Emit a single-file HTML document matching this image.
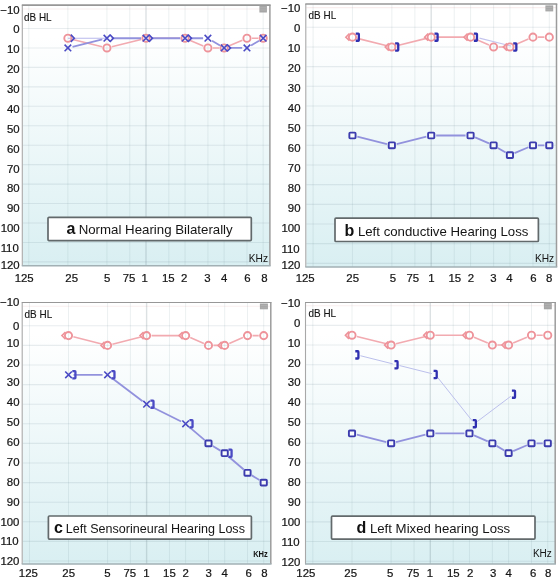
<!DOCTYPE html>
<html><head><meta charset="utf-8"><style>
html,body{margin:0;padding:0;background:#fff;}
body{width:560px;height:580px;overflow:hidden;font-family:"Liberation Sans",sans-serif;}
svg{display:block;will-change:transform;}
</style></head><body>
<svg width="560" height="580" viewBox="0 0 560 580" font-family="Liberation Sans, sans-serif">
<defs><linearGradient id="bg" x1="0" y1="0" x2="0" y2="1"><stop offset="0" stop-color="#ffffff"/><stop offset="0.12" stop-color="#ffffff"/><stop offset="1" stop-color="#d9eff2"/></linearGradient></defs>
<rect width="560" height="580" fill="#fff"/>
<rect x="22.8" y="5.2" width="247.10" height="260.60" fill="url(#bg)"/>
<line x1="22.8" x2="269.9" y1="9.05" y2="9.05" stroke="rgba(220,150,150,0.16)" stroke-width="1.1"/>
<line x1="22.8" x2="269.9" y1="28.50" y2="28.50" stroke="rgba(100,130,140,0.14)" stroke-width="1.1"/>
<line x1="22.8" x2="269.9" y1="47.95" y2="47.95" stroke="rgba(100,130,140,0.14)" stroke-width="1.1"/>
<line x1="22.8" x2="269.9" y1="67.40" y2="67.40" stroke="rgba(100,130,140,0.14)" stroke-width="1.1"/>
<line x1="22.8" x2="269.9" y1="86.85" y2="86.85" stroke="rgba(100,130,140,0.14)" stroke-width="1.1"/>
<line x1="22.8" x2="269.9" y1="106.30" y2="106.30" stroke="rgba(100,130,140,0.14)" stroke-width="1.1"/>
<line x1="22.8" x2="269.9" y1="125.75" y2="125.75" stroke="rgba(100,130,140,0.14)" stroke-width="1.1"/>
<line x1="22.8" x2="269.9" y1="145.20" y2="145.20" stroke="rgba(100,130,140,0.14)" stroke-width="1.1"/>
<line x1="22.8" x2="269.9" y1="164.65" y2="164.65" stroke="rgba(100,130,140,0.14)" stroke-width="1.1"/>
<line x1="22.8" x2="269.9" y1="184.10" y2="184.10" stroke="rgba(100,130,140,0.14)" stroke-width="1.1"/>
<line x1="22.8" x2="269.9" y1="203.55" y2="203.55" stroke="rgba(100,130,140,0.14)" stroke-width="1.1"/>
<line x1="22.8" x2="269.9" y1="223.00" y2="223.00" stroke="rgba(100,130,140,0.14)" stroke-width="1.1"/>
<line x1="22.8" x2="269.9" y1="242.45" y2="242.45" stroke="rgba(100,130,140,0.14)" stroke-width="1.1"/>
<line x1="22.8" x2="269.9" y1="261.90" y2="261.90" stroke="rgba(100,130,140,0.14)" stroke-width="1.1"/>
<line y1="5.2" y2="265.8" x1="28.82" x2="28.82" stroke="rgba(100,130,140,0.12)" stroke-width="1.0"/>
<line y1="5.2" y2="265.8" x1="67.88" x2="67.88" stroke="rgba(100,130,140,0.12)" stroke-width="1.0"/>
<line y1="5.2" y2="265.8" x1="106.94" x2="106.94" stroke="rgba(100,130,140,0.12)" stroke-width="1.0"/>
<line y1="5.2" y2="265.8" x1="129.79" x2="129.79" stroke="rgba(100,130,140,0.12)" stroke-width="1.0"/>
<line y1="5.2" y2="265.8" x1="146.00" x2="146.00" stroke="rgba(90,115,125,0.21)" stroke-width="1.4"/>
<line y1="5.2" y2="265.8" x1="168.85" x2="168.85" stroke="rgba(100,130,140,0.12)" stroke-width="1.0"/>
<line y1="5.2" y2="265.8" x1="185.06" x2="185.06" stroke="rgba(100,130,140,0.12)" stroke-width="1.0"/>
<line y1="5.2" y2="265.8" x1="207.91" x2="207.91" stroke="rgba(100,130,140,0.12)" stroke-width="1.0"/>
<line y1="5.2" y2="265.8" x1="224.12" x2="224.12" stroke="rgba(100,130,140,0.12)" stroke-width="1.0"/>
<line y1="5.2" y2="265.8" x1="246.97" x2="246.97" stroke="rgba(100,130,140,0.12)" stroke-width="1.0"/>
<line y1="5.2" y2="265.8" x1="263.18" x2="263.18" stroke="rgba(100,130,140,0.12)" stroke-width="1.0"/>
<line x1="22.30" x2="22.30" y1="5.2" y2="265.8" stroke="#a8a8a8" stroke-width="1.1"/>
<line x1="269.90" x2="269.90" y1="5.2" y2="265.8" stroke="#9c9c9c" stroke-width="1.5"/>
<line x1="21.80" x2="270.65" y1="265.80" y2="265.80" stroke="#a2b0b4" stroke-width="1.5"/>
<line x1="21.80" x2="270.65" y1="5.20" y2="5.20" stroke="#979797" stroke-width="1.7"/>
<rect x="259.4" y="5.6" width="7.50" height="6.90" fill="#a6a6a6"/>
<line x1="260.20" x2="266.10" y1="7.80" y2="7.80" stroke="#b8b8b8" stroke-width="0.7"/>
<line x1="260.20" x2="266.10" y1="10.00" y2="10.00" stroke="#b8b8b8" stroke-width="0.7"/>
<text x="24.00" y="20.90" font-size="10.2" fill="#151515" stroke="#151515" stroke-width="0.12" textLength="27.6" lengthAdjust="spacingAndGlyphs">dB HL</text>
<text x="248.78" y="261.80" font-size="10.2" fill="#151515">KHz</text>
<rect x="48.0" y="217.3" width="203.30" height="23.30" rx="1" fill="#fff" stroke="#62696b" stroke-width="1.7"/>
<text x="66.40" y="233.75" font-size="16" font-weight="bold" fill="#111">a</text>
<text x="78.67" y="234.00" font-size="13.2" fill="#151515" textLength="154.05" lengthAdjust="spacingAndGlyphs">Normal Hearing Bilaterally</text>
<path d="M72.73,39.43L102.09,46.74M111.79,46.74L141.15,39.43M151.00,38.23L180.06,38.23M189.66,40.18L203.31,45.99M212.91,47.95L219.12,47.95M228.72,45.99L242.37,40.18M251.97,38.23L258.18,38.23" fill="none" stroke="#f2aab0" stroke-width="1.6" />
<path d="M72.54,46.79L102.28,39.38M111.74,38.23L141.20,38.23M150.80,38.23L180.26,38.23M189.86,38.23L203.11,38.23M212.02,40.69L220.00,45.48M228.92,47.95L242.17,47.95M251.08,45.48L259.06,40.69" fill="none" stroke="#9292dd" stroke-width="1.8" />
<polyline points="67.88,38.23 106.94,38.23" fill="none" stroke="#b8b8ec" stroke-width="1.2" />
<circle cx="67.88" cy="38.23" r="3.6" fill="none" stroke="#ee939a" stroke-width="1.9"/>
<circle cx="106.94" cy="47.95" r="3.6" fill="none" stroke="#ee939a" stroke-width="1.9"/>
<circle cx="146.00" cy="38.23" r="3.6" fill="none" stroke="#ee939a" stroke-width="1.9"/>
<circle cx="185.06" cy="38.23" r="3.6" fill="none" stroke="#ee939a" stroke-width="1.9"/>
<circle cx="207.91" cy="47.95" r="3.6" fill="none" stroke="#ee939a" stroke-width="1.9"/>
<circle cx="224.12" cy="47.95" r="3.6" fill="none" stroke="#ee939a" stroke-width="1.9"/>
<circle cx="246.97" cy="38.23" r="3.6" fill="none" stroke="#ee939a" stroke-width="1.9"/>
<circle cx="263.18" cy="38.23" r="3.6" fill="none" stroke="#ee939a" stroke-width="1.9"/>
<path d="M64.58,44.65L71.18,51.25M64.58,51.25L71.18,44.65" stroke="#4a4ac4" stroke-width="1.6" fill="none"/>
<path d="M103.64,34.93L110.24,41.52M103.64,41.52L110.24,34.93" stroke="#4a4ac4" stroke-width="1.6" fill="none"/>
<path d="M142.70,34.93L149.30,41.52M142.70,41.52L149.30,34.93" stroke="#4a4ac4" stroke-width="1.6" fill="none"/>
<path d="M181.76,34.93L188.36,41.52M181.76,41.52L188.36,34.93" stroke="#4a4ac4" stroke-width="1.6" fill="none"/>
<path d="M204.61,34.93L211.21,41.52M204.61,41.52L211.21,34.93" stroke="#4a4ac4" stroke-width="1.6" fill="none"/>
<path d="M220.82,44.65L227.42,51.25M220.82,51.25L227.42,44.65" stroke="#4a4ac4" stroke-width="1.6" fill="none"/>
<path d="M243.67,44.65L250.27,51.25M243.67,51.25L250.27,44.65" stroke="#4a4ac4" stroke-width="1.6" fill="none"/>
<path d="M259.88,34.93L266.48,41.52M259.88,41.52L266.48,34.93" stroke="#4a4ac4" stroke-width="1.6" fill="none"/>
<path d="M70.78,34.62L74.28,38.23L70.78,41.83" stroke="#4a4ac4" stroke-width="1.6" fill="none"/>
<path d="M109.84,34.62L113.34,38.23L109.84,41.83" stroke="#4a4ac4" stroke-width="1.6" fill="none"/>
<path d="M148.90,34.62L152.40,38.23L148.90,41.83" stroke="#4a4ac4" stroke-width="1.6" fill="none"/>
<path d="M187.96,34.62L191.46,38.23L187.96,41.83" stroke="#4a4ac4" stroke-width="1.6" fill="none"/>
<path d="M227.02,44.35L230.52,47.95L227.02,51.55" stroke="#4a4ac4" stroke-width="1.6" fill="none"/>
<text x="0.31" y="13.53" font-size="11.4" fill="#151515" stroke="#151515" stroke-width="0.22">−10</text>
<text x="13.31" y="33.41" font-size="11.4" fill="#151515" stroke="#151515" stroke-width="0.22">0</text>
<text x="6.97" y="53.29" font-size="11.4" fill="#151515" stroke="#151515" stroke-width="0.22">10</text>
<text x="7.00" y="73.17" font-size="11.4" fill="#151515" stroke="#151515" stroke-width="0.22">20</text>
<text x="7.00" y="93.05" font-size="11.4" fill="#151515" stroke="#151515" stroke-width="0.22">30</text>
<text x="7.00" y="112.93" font-size="11.4" fill="#151515" stroke="#151515" stroke-width="0.22">40</text>
<text x="7.00" y="132.81" font-size="11.4" fill="#151515" stroke="#151515" stroke-width="0.22">50</text>
<text x="7.00" y="152.69" font-size="11.4" fill="#151515" stroke="#151515" stroke-width="0.22">60</text>
<text x="7.00" y="172.57" font-size="11.4" fill="#151515" stroke="#151515" stroke-width="0.22">70</text>
<text x="7.00" y="192.45" font-size="11.4" fill="#151515" stroke="#151515" stroke-width="0.22">80</text>
<text x="7.00" y="212.33" font-size="11.4" fill="#151515" stroke="#151515" stroke-width="0.22">90</text>
<text x="0.63" y="232.21" font-size="11.4" fill="#151515" stroke="#151515" stroke-width="0.22">100</text>
<text x="0.63" y="252.09" font-size="11.4" fill="#151515" stroke="#151515" stroke-width="0.22">110</text>
<text x="0.63" y="269.28" font-size="11.4" fill="#151515" stroke="#151515" stroke-width="0.22">120</text>
<text x="14.70" y="282.00" font-size="11.4" fill="#151515" stroke="#151515" stroke-width="0.22">125</text>
<text x="65.37" y="282.00" font-size="11.4" fill="#151515" stroke="#151515" stroke-width="0.22">25</text>
<text x="104.09" y="282.00" font-size="11.4" fill="#151515" stroke="#151515" stroke-width="0.22">5</text>
<text x="122.64" y="282.00" font-size="11.4" fill="#151515" stroke="#151515" stroke-width="0.22">75</text>
<text x="141.43" y="282.00" font-size="11.4" fill="#151515" stroke="#151515" stroke-width="0.22">1</text>
<text x="161.97" y="282.00" font-size="11.4" fill="#151515" stroke="#151515" stroke-width="0.22">15</text>
<text x="180.93" y="282.00" font-size="11.4" fill="#151515" stroke="#151515" stroke-width="0.22">2</text>
<text x="204.37" y="282.00" font-size="11.4" fill="#151515" stroke="#151515" stroke-width="0.22">3</text>
<text x="220.97" y="282.00" font-size="11.4" fill="#151515" stroke="#151515" stroke-width="0.22">4</text>
<text x="244.29" y="282.00" font-size="11.4" fill="#151515" stroke="#151515" stroke-width="0.22">6</text>
<text x="261.23" y="282.00" font-size="11.4" fill="#151515" stroke="#151515" stroke-width="0.22">8</text>
<rect x="306.3" y="3.9" width="250.20" height="263.10" fill="url(#bg)"/>
<line x1="306.3" x2="556.5" y1="7.63" y2="7.63" stroke="rgba(220,150,150,0.16)" stroke-width="1.1"/>
<line x1="306.3" x2="556.5" y1="27.30" y2="27.30" stroke="rgba(100,130,140,0.14)" stroke-width="1.1"/>
<line x1="306.3" x2="556.5" y1="46.97" y2="46.97" stroke="rgba(100,130,140,0.14)" stroke-width="1.1"/>
<line x1="306.3" x2="556.5" y1="66.64" y2="66.64" stroke="rgba(100,130,140,0.14)" stroke-width="1.1"/>
<line x1="306.3" x2="556.5" y1="86.31" y2="86.31" stroke="rgba(100,130,140,0.14)" stroke-width="1.1"/>
<line x1="306.3" x2="556.5" y1="105.98" y2="105.98" stroke="rgba(100,130,140,0.14)" stroke-width="1.1"/>
<line x1="306.3" x2="556.5" y1="125.65" y2="125.65" stroke="rgba(100,130,140,0.14)" stroke-width="1.1"/>
<line x1="306.3" x2="556.5" y1="145.32" y2="145.32" stroke="rgba(100,130,140,0.14)" stroke-width="1.1"/>
<line x1="306.3" x2="556.5" y1="164.99" y2="164.99" stroke="rgba(100,130,140,0.14)" stroke-width="1.1"/>
<line x1="306.3" x2="556.5" y1="184.66" y2="184.66" stroke="rgba(100,130,140,0.14)" stroke-width="1.1"/>
<line x1="306.3" x2="556.5" y1="204.33" y2="204.33" stroke="rgba(100,130,140,0.14)" stroke-width="1.1"/>
<line x1="306.3" x2="556.5" y1="224.00" y2="224.00" stroke="rgba(100,130,140,0.14)" stroke-width="1.1"/>
<line x1="306.3" x2="556.5" y1="243.67" y2="243.67" stroke="rgba(100,130,140,0.14)" stroke-width="1.1"/>
<line x1="306.3" x2="556.5" y1="263.34" y2="263.34" stroke="rgba(100,130,140,0.14)" stroke-width="1.1"/>
<line y1="3.9" y2="267.0" x1="313.09" x2="313.09" stroke="rgba(100,130,140,0.12)" stroke-width="1.0"/>
<line y1="3.9" y2="267.0" x1="352.46" x2="352.46" stroke="rgba(100,130,140,0.12)" stroke-width="1.0"/>
<line y1="3.9" y2="267.0" x1="391.83" x2="391.83" stroke="rgba(100,130,140,0.12)" stroke-width="1.0"/>
<line y1="3.9" y2="267.0" x1="414.86" x2="414.86" stroke="rgba(100,130,140,0.12)" stroke-width="1.0"/>
<line y1="3.9" y2="267.0" x1="431.20" x2="431.20" stroke="rgba(90,115,125,0.21)" stroke-width="1.4"/>
<line y1="3.9" y2="267.0" x1="454.23" x2="454.23" stroke="rgba(100,130,140,0.12)" stroke-width="1.0"/>
<line y1="3.9" y2="267.0" x1="470.57" x2="470.57" stroke="rgba(100,130,140,0.12)" stroke-width="1.0"/>
<line y1="3.9" y2="267.0" x1="493.60" x2="493.60" stroke="rgba(100,130,140,0.12)" stroke-width="1.0"/>
<line y1="3.9" y2="267.0" x1="509.94" x2="509.94" stroke="rgba(100,130,140,0.12)" stroke-width="1.0"/>
<line y1="3.9" y2="267.0" x1="532.97" x2="532.97" stroke="rgba(100,130,140,0.12)" stroke-width="1.0"/>
<line y1="3.9" y2="267.0" x1="549.31" x2="549.31" stroke="rgba(100,130,140,0.12)" stroke-width="1.0"/>
<line x1="305.80" x2="305.80" y1="3.9" y2="267.0" stroke="#a8a8a8" stroke-width="1.1"/>
<line x1="556.50" x2="556.50" y1="3.9" y2="267.0" stroke="#9c9c9c" stroke-width="1.5"/>
<line x1="305.30" x2="557.25" y1="267.00" y2="267.00" stroke="#a2b0b4" stroke-width="1.5"/>
<line x1="305.30" x2="557.25" y1="3.90" y2="3.90" stroke="#979797" stroke-width="1.5"/>
<rect x="545.4" y="5.4" width="7.80" height="6.00" fill="#a6a6a6"/>
<line x1="546.20" x2="552.40" y1="7.60" y2="7.60" stroke="#b8b8b8" stroke-width="0.7"/>
<line x1="546.20" x2="552.40" y1="9.80" y2="9.80" stroke="#b8b8b8" stroke-width="0.7"/>
<text x="308.60" y="18.90" font-size="10.2" fill="#151515" stroke="#151515" stroke-width="0.12" textLength="27.6" lengthAdjust="spacingAndGlyphs">dB HL</text>
<text x="534.88" y="262.00" font-size="10.2" fill="#151515">KHz</text>
<rect x="335.0" y="218.2" width="203.40" height="23.30" rx="1" fill="#fff" stroke="#62696b" stroke-width="1.7"/>
<text x="344.50" y="235.50" font-size="16" font-weight="bold" fill="#111">b</text>
<text x="357.92" y="235.50" font-size="13.2" fill="#151515" textLength="170.50" lengthAdjust="spacingAndGlyphs">Left conductive Hearing Loss</text>
<path d="M357.31,38.35L386.98,45.76M396.68,45.76L426.35,38.35M436.20,37.14L465.57,37.14M475.17,39.10L489.00,45.01M498.60,46.97L504.94,46.97M514.54,45.01L528.37,39.10M537.97,37.14L544.31,37.14" fill="none" stroke="#f2aab0" stroke-width="1.6" />
<path d="M479.45,38.10L511.06,46.00" fill="none" stroke="#c4c4ee" stroke-width="1.1" />
<circle cx="352.46" cy="37.14" r="3.6" fill="none" stroke="#ee939a" stroke-width="1.9"/>
<circle cx="391.83" cy="46.97" r="3.6" fill="none" stroke="#ee939a" stroke-width="1.9"/>
<circle cx="431.20" cy="37.14" r="3.6" fill="none" stroke="#ee939a" stroke-width="1.9"/>
<circle cx="470.57" cy="37.14" r="3.6" fill="none" stroke="#ee939a" stroke-width="1.9"/>
<circle cx="493.60" cy="46.97" r="3.6" fill="none" stroke="#ee939a" stroke-width="1.9"/>
<circle cx="509.94" cy="46.97" r="3.6" fill="none" stroke="#ee939a" stroke-width="1.9"/>
<circle cx="532.97" cy="37.14" r="3.6" fill="none" stroke="#ee939a" stroke-width="1.9"/>
<circle cx="549.31" cy="37.14" r="3.6" fill="none" stroke="#ee939a" stroke-width="1.9"/>
<path d="M349.46,33.54L345.86,37.14L349.46,40.74" stroke="#ee939a" stroke-width="1.6" fill="none"/>
<path d="M388.83,43.37L385.23,46.97L388.83,50.57" stroke="#ee939a" stroke-width="1.6" fill="none"/>
<path d="M428.20,33.54L424.60,37.14L428.20,40.74" stroke="#ee939a" stroke-width="1.6" fill="none"/>
<path d="M467.57,33.54L463.97,37.14L467.57,40.74" stroke="#ee939a" stroke-width="1.6" fill="none"/>
<path d="M506.94,43.37L503.34,46.97L506.94,50.57" stroke="#ee939a" stroke-width="1.6" fill="none"/>
<path d="M355.76,33.54H358.36Q358.86,33.54 358.86,34.14V40.14Q358.86,40.74 358.36,40.74H355.76" stroke="#3030b0" stroke-width="2.3" fill="none"/>
<path d="M395.13,43.37H397.73Q398.23,43.37 398.23,43.97V49.97Q398.23,50.57 397.73,50.57H395.13" stroke="#3030b0" stroke-width="2.3" fill="none"/>
<path d="M434.50,33.54H437.10Q437.60,33.54 437.60,34.14V40.14Q437.60,40.74 437.10,40.74H434.50" stroke="#3030b0" stroke-width="2.3" fill="none"/>
<path d="M473.87,33.54H476.47Q476.97,33.54 476.97,34.14V40.14Q476.97,40.74 476.47,40.74H473.87" stroke="#3030b0" stroke-width="2.3" fill="none"/>
<path d="M513.24,43.37H515.84Q516.34,43.37 516.34,43.97V49.97Q516.34,50.57 515.84,50.57H513.24" stroke="#3030b0" stroke-width="2.3" fill="none"/>
<path d="M357.31,136.70L386.98,144.11M396.68,144.11L426.35,136.70M436.20,135.49L465.57,135.49M475.17,137.45L489.00,143.36M497.88,147.90L505.66,152.58M514.54,153.19L528.37,147.28M537.97,145.32L544.31,145.32" fill="none" stroke="#9292dd" stroke-width="1.8" />
<rect x="349.36" y="132.59" width="6.2" height="5.8" rx="0.8" fill="#fff" fill-opacity="0.7" stroke="#3c3cae" stroke-width="1.9"/>
<rect x="388.73" y="142.42" width="6.2" height="5.8" rx="0.8" fill="#fff" fill-opacity="0.7" stroke="#3c3cae" stroke-width="1.9"/>
<rect x="428.10" y="132.59" width="6.2" height="5.8" rx="0.8" fill="#fff" fill-opacity="0.7" stroke="#3c3cae" stroke-width="1.9"/>
<rect x="467.47" y="132.59" width="6.2" height="5.8" rx="0.8" fill="#fff" fill-opacity="0.7" stroke="#3c3cae" stroke-width="1.9"/>
<rect x="490.50" y="142.42" width="6.2" height="5.8" rx="0.8" fill="#fff" fill-opacity="0.7" stroke="#3c3cae" stroke-width="1.9"/>
<rect x="506.84" y="152.26" width="6.2" height="5.8" rx="0.8" fill="#fff" fill-opacity="0.7" stroke="#3c3cae" stroke-width="1.9"/>
<rect x="529.87" y="142.42" width="6.2" height="5.8" rx="0.8" fill="#fff" fill-opacity="0.7" stroke="#3c3cae" stroke-width="1.9"/>
<rect x="546.21" y="142.42" width="6.2" height="5.8" rx="0.8" fill="#fff" fill-opacity="0.7" stroke="#3c3cae" stroke-width="1.9"/>
<text x="281.11" y="11.58" font-size="11.4" fill="#151515" stroke="#151515" stroke-width="0.22">−10</text>
<text x="294.11" y="31.66" font-size="11.4" fill="#151515" stroke="#151515" stroke-width="0.22">0</text>
<text x="287.77" y="51.74" font-size="11.4" fill="#151515" stroke="#151515" stroke-width="0.22">10</text>
<text x="287.80" y="71.82" font-size="11.4" fill="#151515" stroke="#151515" stroke-width="0.22">20</text>
<text x="287.80" y="91.90" font-size="11.4" fill="#151515" stroke="#151515" stroke-width="0.22">30</text>
<text x="287.80" y="111.98" font-size="11.4" fill="#151515" stroke="#151515" stroke-width="0.22">40</text>
<text x="287.80" y="132.06" font-size="11.4" fill="#151515" stroke="#151515" stroke-width="0.22">50</text>
<text x="287.80" y="152.14" font-size="11.4" fill="#151515" stroke="#151515" stroke-width="0.22">60</text>
<text x="287.80" y="172.22" font-size="11.4" fill="#151515" stroke="#151515" stroke-width="0.22">70</text>
<text x="287.80" y="192.30" font-size="11.4" fill="#151515" stroke="#151515" stroke-width="0.22">80</text>
<text x="287.80" y="212.38" font-size="11.4" fill="#151515" stroke="#151515" stroke-width="0.22">90</text>
<text x="281.43" y="232.46" font-size="11.4" fill="#151515" stroke="#151515" stroke-width="0.22">100</text>
<text x="281.43" y="252.54" font-size="11.4" fill="#151515" stroke="#151515" stroke-width="0.22">110</text>
<text x="281.43" y="268.88" font-size="11.4" fill="#151515" stroke="#151515" stroke-width="0.22">120</text>
<text x="295.70" y="281.50" font-size="11.4" fill="#151515" stroke="#151515" stroke-width="0.22">125</text>
<text x="346.32" y="281.50" font-size="11.4" fill="#151515" stroke="#151515" stroke-width="0.22">25</text>
<text x="389.84" y="281.50" font-size="11.4" fill="#151515" stroke="#151515" stroke-width="0.22">5</text>
<text x="406.49" y="281.50" font-size="11.4" fill="#151515" stroke="#151515" stroke-width="0.22">75</text>
<text x="428.28" y="281.50" font-size="11.4" fill="#151515" stroke="#151515" stroke-width="0.22">1</text>
<text x="448.47" y="281.50" font-size="11.4" fill="#151515" stroke="#151515" stroke-width="0.22">15</text>
<text x="467.83" y="281.50" font-size="11.4" fill="#151515" stroke="#151515" stroke-width="0.22">2</text>
<text x="490.26" y="281.50" font-size="11.4" fill="#151515" stroke="#151515" stroke-width="0.22">3</text>
<text x="506.26" y="281.50" font-size="11.4" fill="#151515" stroke="#151515" stroke-width="0.22">4</text>
<text x="530.19" y="281.50" font-size="11.4" fill="#151515" stroke="#151515" stroke-width="0.22">6</text>
<text x="545.93" y="281.50" font-size="11.4" fill="#151515" stroke="#151515" stroke-width="0.22">8</text>
<rect x="22.7" y="302.5" width="248.10" height="261.50" fill="url(#bg)"/>
<line x1="22.7" x2="270.8" y1="306.20" y2="306.20" stroke="rgba(220,150,150,0.16)" stroke-width="1.1"/>
<line x1="22.7" x2="270.8" y1="325.80" y2="325.80" stroke="rgba(100,130,140,0.14)" stroke-width="1.1"/>
<line x1="22.7" x2="270.8" y1="345.40" y2="345.40" stroke="rgba(100,130,140,0.14)" stroke-width="1.1"/>
<line x1="22.7" x2="270.8" y1="365.00" y2="365.00" stroke="rgba(100,130,140,0.14)" stroke-width="1.1"/>
<line x1="22.7" x2="270.8" y1="384.60" y2="384.60" stroke="rgba(100,130,140,0.14)" stroke-width="1.1"/>
<line x1="22.7" x2="270.8" y1="404.20" y2="404.20" stroke="rgba(100,130,140,0.14)" stroke-width="1.1"/>
<line x1="22.7" x2="270.8" y1="423.80" y2="423.80" stroke="rgba(100,130,140,0.14)" stroke-width="1.1"/>
<line x1="22.7" x2="270.8" y1="443.40" y2="443.40" stroke="rgba(100,130,140,0.14)" stroke-width="1.1"/>
<line x1="22.7" x2="270.8" y1="463.00" y2="463.00" stroke="rgba(100,130,140,0.14)" stroke-width="1.1"/>
<line x1="22.7" x2="270.8" y1="482.60" y2="482.60" stroke="rgba(100,130,140,0.14)" stroke-width="1.1"/>
<line x1="22.7" x2="270.8" y1="502.20" y2="502.20" stroke="rgba(100,130,140,0.14)" stroke-width="1.1"/>
<line x1="22.7" x2="270.8" y1="521.80" y2="521.80" stroke="rgba(100,130,140,0.14)" stroke-width="1.1"/>
<line x1="22.7" x2="270.8" y1="541.40" y2="541.40" stroke="rgba(100,130,140,0.14)" stroke-width="1.1"/>
<line x1="22.7" x2="270.8" y1="561.00" y2="561.00" stroke="rgba(100,130,140,0.14)" stroke-width="1.1"/>
<line y1="302.5" y2="564.0" x1="29.48" x2="29.48" stroke="rgba(100,130,140,0.12)" stroke-width="1.0"/>
<line y1="302.5" y2="564.0" x1="68.52" x2="68.52" stroke="rgba(100,130,140,0.12)" stroke-width="1.0"/>
<line y1="302.5" y2="564.0" x1="107.56" x2="107.56" stroke="rgba(100,130,140,0.12)" stroke-width="1.0"/>
<line y1="302.5" y2="564.0" x1="130.40" x2="130.40" stroke="rgba(100,130,140,0.12)" stroke-width="1.0"/>
<line y1="302.5" y2="564.0" x1="146.60" x2="146.60" stroke="rgba(90,115,125,0.21)" stroke-width="1.4"/>
<line y1="302.5" y2="564.0" x1="169.44" x2="169.44" stroke="rgba(100,130,140,0.12)" stroke-width="1.0"/>
<line y1="302.5" y2="564.0" x1="185.64" x2="185.64" stroke="rgba(100,130,140,0.12)" stroke-width="1.0"/>
<line y1="302.5" y2="564.0" x1="208.48" x2="208.48" stroke="rgba(100,130,140,0.12)" stroke-width="1.0"/>
<line y1="302.5" y2="564.0" x1="224.68" x2="224.68" stroke="rgba(100,130,140,0.12)" stroke-width="1.0"/>
<line y1="302.5" y2="564.0" x1="247.52" x2="247.52" stroke="rgba(100,130,140,0.12)" stroke-width="1.0"/>
<line y1="302.5" y2="564.0" x1="263.72" x2="263.72" stroke="rgba(100,130,140,0.12)" stroke-width="1.0"/>
<line x1="22.20" x2="22.20" y1="302.5" y2="564.0" stroke="#a8a8a8" stroke-width="1.1"/>
<line x1="270.80" x2="270.80" y1="302.5" y2="564.0" stroke="#9c9c9c" stroke-width="1.5"/>
<line x1="21.70" x2="271.55" y1="564.00" y2="564.00" stroke="#a2b0b4" stroke-width="1.5"/>
<line x1="21.70" x2="271.55" y1="302.50" y2="302.50" stroke="#979797" stroke-width="1.2"/>
<rect x="259.9" y="303.5" width="8.00" height="5.80" fill="#a6a6a6"/>
<line x1="260.70" x2="267.10" y1="305.70" y2="305.70" stroke="#b8b8b8" stroke-width="0.7"/>
<line x1="260.70" x2="267.10" y1="307.90" y2="307.90" stroke="#b8b8b8" stroke-width="0.7"/>
<text x="24.60" y="317.50" font-size="10.2" fill="#151515" stroke="#151515" stroke-width="0.12" textLength="27.6" lengthAdjust="spacingAndGlyphs">dB HL</text>
<text x="253.15" y="557.00" font-size="8.4" font-weight="bold" fill="#151515" textLength="14.6" lengthAdjust="spacingAndGlyphs">KHz</text>
<rect x="48.4" y="516.0" width="203.00" height="23.10" rx="1" fill="#fff" stroke="#62696b" stroke-width="1.7"/>
<text x="53.90" y="533.10" font-size="16" font-weight="bold" fill="#111">c</text>
<text x="65.82" y="532.75" font-size="13.2" fill="#151515" textLength="179.10" lengthAdjust="spacingAndGlyphs">Left Sensorineural Hearing Loss</text>
<path d="M73.37,336.82L102.71,344.18M112.41,344.18L141.75,336.82M151.60,335.60L180.64,335.60M190.23,337.57L203.88,343.43M213.48,345.40L219.68,345.40M229.27,343.43L242.92,337.57M252.52,335.60L258.72,335.60" fill="none" stroke="#f2aab0" stroke-width="1.6" />
<circle cx="68.52" cy="335.60" r="3.6" fill="none" stroke="#ee939a" stroke-width="1.9"/>
<circle cx="107.56" cy="345.40" r="3.6" fill="none" stroke="#ee939a" stroke-width="1.9"/>
<circle cx="146.60" cy="335.60" r="3.6" fill="none" stroke="#ee939a" stroke-width="1.9"/>
<circle cx="185.64" cy="335.60" r="3.6" fill="none" stroke="#ee939a" stroke-width="1.9"/>
<circle cx="208.48" cy="345.40" r="3.6" fill="none" stroke="#ee939a" stroke-width="1.9"/>
<circle cx="224.68" cy="345.40" r="3.6" fill="none" stroke="#ee939a" stroke-width="1.9"/>
<circle cx="247.52" cy="335.60" r="3.6" fill="none" stroke="#ee939a" stroke-width="1.9"/>
<circle cx="263.72" cy="335.60" r="3.6" fill="none" stroke="#ee939a" stroke-width="1.9"/>
<path d="M65.52,332.00L61.92,335.60L65.52,339.20" stroke="#ee939a" stroke-width="1.6" fill="none"/>
<path d="M104.56,341.80L100.96,345.40L104.56,349.00" stroke="#ee939a" stroke-width="1.6" fill="none"/>
<path d="M143.60,332.00L140.00,335.60L143.60,339.20" stroke="#ee939a" stroke-width="1.6" fill="none"/>
<path d="M182.64,332.00L179.04,335.60L182.64,339.20" stroke="#ee939a" stroke-width="1.6" fill="none"/>
<path d="M221.68,341.80L218.08,345.40L221.68,349.00" stroke="#ee939a" stroke-width="1.6" fill="none"/>
<path d="M73.52,374.80L102.56,374.80M111.55,377.81L142.61,401.19M151.07,406.44L181.17,421.56M189.43,427.06L204.68,440.14M212.76,445.99L220.40,450.61M228.47,456.46L243.72,469.54M251.80,475.39L259.44,480.01" fill="none" stroke="#9292dd" stroke-width="1.8" />
<path d="M65.22,371.50L71.82,378.10M65.22,378.10L71.82,371.50" stroke="#4a4ac4" stroke-width="1.6" fill="none"/>
<path d="M72.32,371.20H74.92Q75.42,371.20 75.42,371.80V377.80Q75.42,378.40 74.92,378.40H72.32" stroke="#4a4ac4" stroke-width="2.3" fill="none"/>
<path d="M104.26,371.50L110.86,378.10M104.26,378.10L110.86,371.50" stroke="#4a4ac4" stroke-width="1.6" fill="none"/>
<path d="M111.36,371.20H113.96Q114.46,371.20 114.46,371.80V377.80Q114.46,378.40 113.96,378.40H111.36" stroke="#4a4ac4" stroke-width="2.3" fill="none"/>
<path d="M143.30,400.90L149.90,407.50M143.30,407.50L149.90,400.90" stroke="#4a4ac4" stroke-width="1.6" fill="none"/>
<path d="M150.40,400.60H153.00Q153.50,400.60 153.50,401.20V407.20Q153.50,407.80 153.00,407.80H150.40" stroke="#4a4ac4" stroke-width="2.3" fill="none"/>
<path d="M182.34,420.50L188.94,427.10M182.34,427.10L188.94,420.50" stroke="#4a4ac4" stroke-width="1.6" fill="none"/>
<path d="M189.44,420.20H192.04Q192.54,420.20 192.54,420.80V426.80Q192.54,427.40 192.04,427.40H189.44" stroke="#4a4ac4" stroke-width="2.3" fill="none"/>
<rect x="205.38" y="440.50" width="6.2" height="5.8" rx="0.8" fill="#fff" fill-opacity="0.7" stroke="#3c3cae" stroke-width="1.9"/>
<rect x="221.58" y="450.30" width="6.2" height="5.8" rx="0.8" fill="#fff" fill-opacity="0.7" stroke="#3c3cae" stroke-width="1.9"/>
<rect x="244.42" y="469.90" width="6.2" height="5.8" rx="0.8" fill="#fff" fill-opacity="0.7" stroke="#3c3cae" stroke-width="1.9"/>
<rect x="260.62" y="479.70" width="6.2" height="5.8" rx="0.8" fill="#fff" fill-opacity="0.7" stroke="#3c3cae" stroke-width="1.9"/>
<path d="M228.48,449.60H231.08Q231.58,449.60 231.58,450.20V456.20Q231.58,456.80 231.08,456.80H228.48" stroke="#4a4ac4" stroke-width="2.3" fill="none"/>
<text x="0.11" y="306.48" font-size="11.4" fill="#151515" stroke="#151515" stroke-width="0.22">−10</text>
<text x="13.11" y="330.48" font-size="11.4" fill="#151515" stroke="#151515" stroke-width="0.22">0</text>
<text x="6.77" y="346.68" font-size="11.4" fill="#151515" stroke="#151515" stroke-width="0.22">10</text>
<text x="6.80" y="366.55" font-size="11.4" fill="#151515" stroke="#151515" stroke-width="0.22">20</text>
<text x="6.80" y="386.42" font-size="11.4" fill="#151515" stroke="#151515" stroke-width="0.22">30</text>
<text x="6.80" y="406.29" font-size="11.4" fill="#151515" stroke="#151515" stroke-width="0.22">40</text>
<text x="6.80" y="426.16" font-size="11.4" fill="#151515" stroke="#151515" stroke-width="0.22">50</text>
<text x="6.80" y="446.03" font-size="11.4" fill="#151515" stroke="#151515" stroke-width="0.22">60</text>
<text x="6.80" y="465.90" font-size="11.4" fill="#151515" stroke="#151515" stroke-width="0.22">70</text>
<text x="6.80" y="485.77" font-size="11.4" fill="#151515" stroke="#151515" stroke-width="0.22">80</text>
<text x="6.80" y="505.64" font-size="11.4" fill="#151515" stroke="#151515" stroke-width="0.22">90</text>
<text x="0.43" y="525.51" font-size="11.4" fill="#151515" stroke="#151515" stroke-width="0.22">100</text>
<text x="0.43" y="545.38" font-size="11.4" fill="#151515" stroke="#151515" stroke-width="0.22">110</text>
<text x="0.43" y="565.25" font-size="11.4" fill="#151515" stroke="#151515" stroke-width="0.22">120</text>
<text x="18.80" y="577.30" font-size="11.4" fill="#151515" stroke="#151515" stroke-width="0.22">125</text>
<text x="62.37" y="577.30" font-size="11.4" fill="#151515" stroke="#151515" stroke-width="0.22">25</text>
<text x="104.34" y="577.30" font-size="11.4" fill="#151515" stroke="#151515" stroke-width="0.22">5</text>
<text x="123.49" y="577.30" font-size="11.4" fill="#151515" stroke="#151515" stroke-width="0.22">75</text>
<text x="143.28" y="577.30" font-size="11.4" fill="#151515" stroke="#151515" stroke-width="0.22">1</text>
<text x="163.07" y="577.30" font-size="11.4" fill="#151515" stroke="#151515" stroke-width="0.22">15</text>
<text x="182.43" y="577.30" font-size="11.4" fill="#151515" stroke="#151515" stroke-width="0.22">2</text>
<text x="205.62" y="577.30" font-size="11.4" fill="#151515" stroke="#151515" stroke-width="0.22">3</text>
<text x="221.62" y="577.30" font-size="11.4" fill="#151515" stroke="#151515" stroke-width="0.22">4</text>
<text x="245.39" y="577.30" font-size="11.4" fill="#151515" stroke="#151515" stroke-width="0.22">6</text>
<text x="261.23" y="577.30" font-size="11.4" fill="#151515" stroke="#151515" stroke-width="0.22">8</text>
<rect x="306.0" y="302.5" width="249.20" height="261.50" fill="url(#bg)"/>
<line x1="306.0" x2="555.2" y1="305.75" y2="305.75" stroke="rgba(220,150,150,0.16)" stroke-width="1.1"/>
<line x1="306.0" x2="555.2" y1="325.40" y2="325.40" stroke="rgba(100,130,140,0.14)" stroke-width="1.1"/>
<line x1="306.0" x2="555.2" y1="345.05" y2="345.05" stroke="rgba(100,130,140,0.14)" stroke-width="1.1"/>
<line x1="306.0" x2="555.2" y1="364.70" y2="364.70" stroke="rgba(100,130,140,0.14)" stroke-width="1.1"/>
<line x1="306.0" x2="555.2" y1="384.35" y2="384.35" stroke="rgba(100,130,140,0.14)" stroke-width="1.1"/>
<line x1="306.0" x2="555.2" y1="404.00" y2="404.00" stroke="rgba(100,130,140,0.14)" stroke-width="1.1"/>
<line x1="306.0" x2="555.2" y1="423.65" y2="423.65" stroke="rgba(100,130,140,0.14)" stroke-width="1.1"/>
<line x1="306.0" x2="555.2" y1="443.30" y2="443.30" stroke="rgba(100,130,140,0.14)" stroke-width="1.1"/>
<line x1="306.0" x2="555.2" y1="462.95" y2="462.95" stroke="rgba(100,130,140,0.14)" stroke-width="1.1"/>
<line x1="306.0" x2="555.2" y1="482.60" y2="482.60" stroke="rgba(100,130,140,0.14)" stroke-width="1.1"/>
<line x1="306.0" x2="555.2" y1="502.25" y2="502.25" stroke="rgba(100,130,140,0.14)" stroke-width="1.1"/>
<line x1="306.0" x2="555.2" y1="521.90" y2="521.90" stroke="rgba(100,130,140,0.14)" stroke-width="1.1"/>
<line x1="306.0" x2="555.2" y1="541.55" y2="541.55" stroke="rgba(100,130,140,0.14)" stroke-width="1.1"/>
<line x1="306.0" x2="555.2" y1="561.20" y2="561.20" stroke="rgba(100,130,140,0.14)" stroke-width="1.1"/>
<line y1="302.5" y2="564.0" x1="312.85" x2="312.85" stroke="rgba(100,130,140,0.12)" stroke-width="1.0"/>
<line y1="302.5" y2="564.0" x1="352.00" x2="352.00" stroke="rgba(100,130,140,0.12)" stroke-width="1.0"/>
<line y1="302.5" y2="564.0" x1="391.15" x2="391.15" stroke="rgba(100,130,140,0.12)" stroke-width="1.0"/>
<line y1="302.5" y2="564.0" x1="414.05" x2="414.05" stroke="rgba(100,130,140,0.12)" stroke-width="1.0"/>
<line y1="302.5" y2="564.0" x1="430.30" x2="430.30" stroke="rgba(90,115,125,0.21)" stroke-width="1.4"/>
<line y1="302.5" y2="564.0" x1="453.20" x2="453.20" stroke="rgba(100,130,140,0.12)" stroke-width="1.0"/>
<line y1="302.5" y2="564.0" x1="469.45" x2="469.45" stroke="rgba(100,130,140,0.12)" stroke-width="1.0"/>
<line y1="302.5" y2="564.0" x1="492.35" x2="492.35" stroke="rgba(100,130,140,0.12)" stroke-width="1.0"/>
<line y1="302.5" y2="564.0" x1="508.60" x2="508.60" stroke="rgba(100,130,140,0.12)" stroke-width="1.0"/>
<line y1="302.5" y2="564.0" x1="531.50" x2="531.50" stroke="rgba(100,130,140,0.12)" stroke-width="1.0"/>
<line y1="302.5" y2="564.0" x1="547.75" x2="547.75" stroke="rgba(100,130,140,0.12)" stroke-width="1.0"/>
<line x1="305.50" x2="305.50" y1="302.5" y2="564.0" stroke="#a8a8a8" stroke-width="1.1"/>
<line x1="555.20" x2="555.20" y1="302.5" y2="564.0" stroke="#9c9c9c" stroke-width="1.5"/>
<line x1="305.00" x2="555.95" y1="564.00" y2="564.00" stroke="#a2b0b4" stroke-width="1.5"/>
<line x1="305.00" x2="555.95" y1="302.50" y2="302.50" stroke="#979797" stroke-width="1.2"/>
<rect x="543.9" y="302.5" width="7.90" height="6.80" fill="#a6a6a6"/>
<line x1="544.70" x2="551.00" y1="304.70" y2="304.70" stroke="#b8b8b8" stroke-width="0.7"/>
<line x1="544.70" x2="551.00" y1="306.90" y2="306.90" stroke="#b8b8b8" stroke-width="0.7"/>
<text x="308.50" y="317.00" font-size="10.2" fill="#151515" stroke="#151515" stroke-width="0.12" textLength="27.6" lengthAdjust="spacingAndGlyphs">dB HL</text>
<text x="532.95" y="557.00" font-size="10.0" fill="#151515">KHz</text>
<rect x="331.5" y="516.2" width="203.50" height="22.90" rx="1" fill="#fff" stroke="#62696b" stroke-width="1.7"/>
<text x="356.40" y="532.50" font-size="16" font-weight="bold" fill="#111">d</text>
<text x="369.92" y="532.75" font-size="13.2" fill="#151515" textLength="140.30" lengthAdjust="spacingAndGlyphs">Left Mixed hearing Loss</text>
<path d="M356.85,336.44L386.30,343.83M396.00,343.83L425.45,336.44M435.30,335.22L464.45,335.22M474.04,337.20L487.76,343.08M497.35,345.05L503.60,345.05M513.19,343.08L526.91,337.20M536.50,335.22L542.75,335.22" fill="none" stroke="#f2aab0" stroke-width="1.6" />
<circle cx="352.00" cy="335.22" r="3.6" fill="none" stroke="#ee939a" stroke-width="1.9"/>
<circle cx="391.15" cy="345.05" r="3.6" fill="none" stroke="#ee939a" stroke-width="1.9"/>
<circle cx="430.30" cy="335.22" r="3.6" fill="none" stroke="#ee939a" stroke-width="1.9"/>
<circle cx="469.45" cy="335.22" r="3.6" fill="none" stroke="#ee939a" stroke-width="1.9"/>
<circle cx="492.35" cy="345.05" r="3.6" fill="none" stroke="#ee939a" stroke-width="1.9"/>
<circle cx="508.60" cy="345.05" r="3.6" fill="none" stroke="#ee939a" stroke-width="1.9"/>
<circle cx="531.50" cy="335.22" r="3.6" fill="none" stroke="#ee939a" stroke-width="1.9"/>
<circle cx="547.75" cy="335.22" r="3.6" fill="none" stroke="#ee939a" stroke-width="1.9"/>
<path d="M349.00,331.62L345.40,335.22L349.00,338.82" stroke="#ee939a" stroke-width="1.6" fill="none"/>
<path d="M388.15,341.45L384.55,345.05L388.15,348.65" stroke="#ee939a" stroke-width="1.6" fill="none"/>
<path d="M427.30,331.62L423.70,335.22L427.30,338.82" stroke="#ee939a" stroke-width="1.6" fill="none"/>
<path d="M466.45,331.62L462.85,335.22L466.45,338.82" stroke="#ee939a" stroke-width="1.6" fill="none"/>
<path d="M505.60,341.45L502.00,345.05L505.60,348.65" stroke="#ee939a" stroke-width="1.6" fill="none"/>
<path d="M360.39,355.73L392.76,363.85M399.54,365.55L431.91,373.67M437.48,377.26L472.27,420.91M477.25,421.54L510.80,396.28" fill="none" stroke="#bcc0ec" stroke-width="1.0" />
<path d="M355.30,351.27H357.90Q358.40,351.27 358.40,351.88V357.88Q358.40,358.48 357.90,358.48H355.30" stroke="#3030b0" stroke-width="2.3" fill="none"/>
<path d="M394.45,361.10H397.05Q397.55,361.10 397.55,361.70V367.70Q397.55,368.30 397.05,368.30H394.45" stroke="#3030b0" stroke-width="2.3" fill="none"/>
<path d="M433.60,370.92H436.20Q436.70,370.92 436.70,371.52V377.52Q436.70,378.12 436.20,378.12H433.60" stroke="#3030b0" stroke-width="2.3" fill="none"/>
<path d="M472.75,420.05H475.35Q475.85,420.05 475.85,420.65V426.65Q475.85,427.25 475.35,427.25H472.75" stroke="#3030b0" stroke-width="2.3" fill="none"/>
<path d="M511.90,390.57H514.50Q515.00,390.57 515.00,391.17V397.17Q515.00,397.77 514.50,397.77H511.90" stroke="#3030b0" stroke-width="2.3" fill="none"/>
<path d="M356.85,434.69L386.30,442.08M396.00,442.08L425.45,434.69M435.30,433.47L464.45,433.47M474.04,435.45L487.76,441.33M496.63,445.89L504.32,450.54M513.19,451.15L526.91,445.27M536.50,443.30L542.75,443.30" fill="none" stroke="#9292dd" stroke-width="1.8" />
<rect x="348.90" y="430.57" width="6.2" height="5.8" rx="0.8" fill="#fff" fill-opacity="0.7" stroke="#3c3cae" stroke-width="1.9"/>
<rect x="388.05" y="440.40" width="6.2" height="5.8" rx="0.8" fill="#fff" fill-opacity="0.7" stroke="#3c3cae" stroke-width="1.9"/>
<rect x="427.20" y="430.57" width="6.2" height="5.8" rx="0.8" fill="#fff" fill-opacity="0.7" stroke="#3c3cae" stroke-width="1.9"/>
<rect x="466.35" y="430.57" width="6.2" height="5.8" rx="0.8" fill="#fff" fill-opacity="0.7" stroke="#3c3cae" stroke-width="1.9"/>
<rect x="489.25" y="440.40" width="6.2" height="5.8" rx="0.8" fill="#fff" fill-opacity="0.7" stroke="#3c3cae" stroke-width="1.9"/>
<rect x="505.50" y="450.23" width="6.2" height="5.8" rx="0.8" fill="#fff" fill-opacity="0.7" stroke="#3c3cae" stroke-width="1.9"/>
<rect x="528.40" y="440.40" width="6.2" height="5.8" rx="0.8" fill="#fff" fill-opacity="0.7" stroke="#3c3cae" stroke-width="1.9"/>
<rect x="544.65" y="440.40" width="6.2" height="5.8" rx="0.8" fill="#fff" fill-opacity="0.7" stroke="#3c3cae" stroke-width="1.9"/>
<text x="281.11" y="306.83" font-size="11.4" fill="#151515" stroke="#151515" stroke-width="0.22">−10</text>
<text x="294.11" y="326.73" font-size="11.4" fill="#151515" stroke="#151515" stroke-width="0.22">0</text>
<text x="287.77" y="346.63" font-size="11.4" fill="#151515" stroke="#151515" stroke-width="0.22">10</text>
<text x="287.80" y="366.53" font-size="11.4" fill="#151515" stroke="#151515" stroke-width="0.22">20</text>
<text x="287.80" y="386.43" font-size="11.4" fill="#151515" stroke="#151515" stroke-width="0.22">30</text>
<text x="287.80" y="406.33" font-size="11.4" fill="#151515" stroke="#151515" stroke-width="0.22">40</text>
<text x="287.80" y="426.23" font-size="11.4" fill="#151515" stroke="#151515" stroke-width="0.22">50</text>
<text x="287.80" y="446.13" font-size="11.4" fill="#151515" stroke="#151515" stroke-width="0.22">60</text>
<text x="287.80" y="466.03" font-size="11.4" fill="#151515" stroke="#151515" stroke-width="0.22">70</text>
<text x="287.80" y="485.93" font-size="11.4" fill="#151515" stroke="#151515" stroke-width="0.22">80</text>
<text x="287.80" y="505.83" font-size="11.4" fill="#151515" stroke="#151515" stroke-width="0.22">90</text>
<text x="281.43" y="525.73" font-size="11.4" fill="#151515" stroke="#151515" stroke-width="0.22">100</text>
<text x="281.43" y="545.63" font-size="11.4" fill="#151515" stroke="#151515" stroke-width="0.22">110</text>
<text x="281.43" y="565.53" font-size="11.4" fill="#151515" stroke="#151515" stroke-width="0.22">120</text>
<text x="296.30" y="577.30" font-size="11.4" fill="#151515" stroke="#151515" stroke-width="0.22">125</text>
<text x="344.37" y="577.30" font-size="11.4" fill="#151515" stroke="#151515" stroke-width="0.22">25</text>
<text x="387.09" y="577.30" font-size="11.4" fill="#151515" stroke="#151515" stroke-width="0.22">5</text>
<text x="406.64" y="577.30" font-size="11.4" fill="#151515" stroke="#151515" stroke-width="0.22">75</text>
<text x="426.68" y="577.30" font-size="11.4" fill="#151515" stroke="#151515" stroke-width="0.22">1</text>
<text x="446.97" y="577.30" font-size="11.4" fill="#151515" stroke="#151515" stroke-width="0.22">15</text>
<text x="466.93" y="577.30" font-size="11.4" fill="#151515" stroke="#151515" stroke-width="0.22">2</text>
<text x="489.97" y="577.30" font-size="11.4" fill="#151515" stroke="#151515" stroke-width="0.22">3</text>
<text x="505.62" y="577.30" font-size="11.4" fill="#151515" stroke="#151515" stroke-width="0.22">4</text>
<text x="529.89" y="577.30" font-size="11.4" fill="#151515" stroke="#151515" stroke-width="0.22">6</text>
<text x="544.93" y="577.30" font-size="11.4" fill="#151515" stroke="#151515" stroke-width="0.22">8</text>
</svg>
</body></html>
